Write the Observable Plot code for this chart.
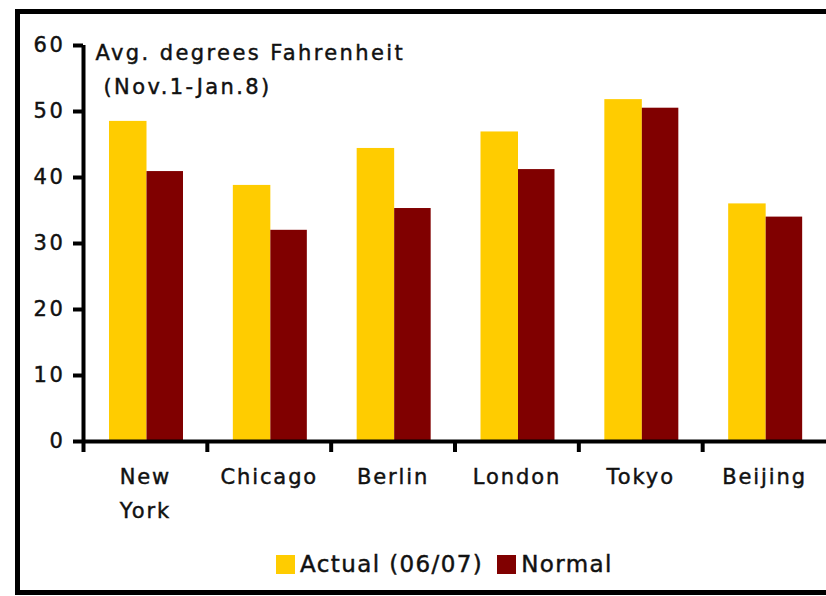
<!DOCTYPE html>
<html>
<head>
<meta charset="utf-8">
<script src="https://cdn.jsdelivr.net/npm/d3@7"></script>
<script src="https://cdn.jsdelivr.net/npm/@observablehq/plot@0.6"></script>
<style>
  html, body { margin: 0; padding: 0; width: 826px; height: 596px; overflow: hidden; background: #fff; }
  #frame { position: absolute; left: 15px; top: 9px; width: 900px; height: 586px; border: 5px solid #000; box-sizing: border-box; }
  #chart { position: absolute; left: 0; top: 0; }
  #chart svg text { letter-spacing: 1.9px; stroke: #111; stroke-width: 0.45px; }
  #chart svg text.ttl { letter-spacing: 2.4px; }
  #chart svg g[aria-label="y-axis tick label"] text { letter-spacing: 2.6px; }
  #legend { position: absolute; left: 276px; top: 551px; display: flex; align-items: center;
            font-family: "DejaVu Sans", Verdana, sans-serif; font-size: 23px; color: #111; letter-spacing: 1.4px;
            -webkit-text-stroke: 0.45px #111; }
  #legend .sw { width: 19px; height: 19px; margin-right: 5px; -webkit-text-stroke: 0; }
  #legend .item { display: flex; align-items: center; margin-right: 14px; }
</style>
</head>
<body>
<div id="frame"></div>
<div id="chart"></div>
<div id="legend"></div>
<script>
const cities = ["New York", "Chicago", "Berlin", "London", "Tokyo", "Beijing"];
const cityLabels = ["New\nYork", "Chicago", "Berlin", "London", "Tokyo", "Beijing"];
const actual = [48.5, 38.8, 44.4, 46.9, 51.8, 36.0];
const normal = [40.9, 32.0, 35.3, 41.2, 50.5, 34.0];
const seriesNames = ["Actual (06/07)", "Normal"];
const seriesColors = ["#FFCC00", "#800000"];
const yTicks = [0, 10, 20, 30, 40, 50, 60];
const titleLine1 = "Avg. degrees Fahrenheit";
const titleLine2 = "(Nov.1-Jan.8)";

const rows = cities.map((c, i) => ({city: c, actual: actual[i], normal: normal[i]}));
const step = (826 - 83) / cities.length;
const font = "DejaVu Sans, Verdana, sans-serif";

const chart = Plot.plot({
  width: 826,
  height: 596,
  marginLeft: 83,
  marginRight: 0,
  marginTop: 45,
  marginBottom: 155,
  style: {fontFamily: font, color: "#111", background: "transparent", overflow: "visible"},
  x: {type: "band", domain: cities, padding: 0, round: false},
  y: {domain: [0, 60]},
  marks: [
    Plot.barY(rows, {x: "city", y: "actual", fill: seriesColors[0], insetLeft: 26, insetRight: step - 63.5}),
    Plot.barY(rows, {x: "city", y: "normal", fill: seriesColors[1], insetLeft: 63.5, insetRight: step - 100}),
    Plot.ruleY([0], {stroke: "#000", strokeWidth: 4}),
    Plot.ruleX([cities[0]], {x: d => d, y1: 0, y2: 60, dx: -step / 2, stroke: "#000", strokeWidth: 4}),
    Plot.axisX({tickSize: 11, tickFormat: () => "", dx: -step / 2, strokeWidth: 4, stroke: "#000", label: null}),
    Plot.axisX({tickSize: 0, tickPadding: 18, fontSize: 21, lineHeight: 1.62, fill: "#111",
                tickFormat: d => cityLabels[cities.indexOf(d)], label: null}),
    Plot.axisY({ticks: yTicks, tickSize: 10, tickPadding: 8, strokeWidth: 4, stroke: "#000",
                fontSize: 21, fill: "#111", label: null}),
    Plot.text([titleLine1], {text: d => d, frameAnchor: "top-left", textAnchor: "start", lineAnchor: "top",
                             dx: 12, dy: 0, fontSize: 21, fill: "#111", className: "ttl"}),
    Plot.text([titleLine2], {text: d => d, frameAnchor: "top-left", textAnchor: "start", lineAnchor: "top",
                             dx: 20, dy: 34, fontSize: 21, fill: "#111", className: "ttl"})
  ]
});
document.getElementById("chart").appendChild(chart);
chart.querySelectorAll("g.ttl").forEach(g => g.querySelectorAll("text").forEach(t => t.setAttribute("class", "ttl")));

const legend = document.getElementById("legend");
seriesNames.forEach((name, i) => {
  const item = document.createElement("div");
  item.className = "item";
  const sw = document.createElement("div");
  sw.className = "sw";
  sw.style.background = seriesColors[i];
  const label = document.createElement("span");
  label.textContent = name;
  item.appendChild(sw);
  item.appendChild(label);
  legend.appendChild(item);
});
</script>
</body>
</html>
